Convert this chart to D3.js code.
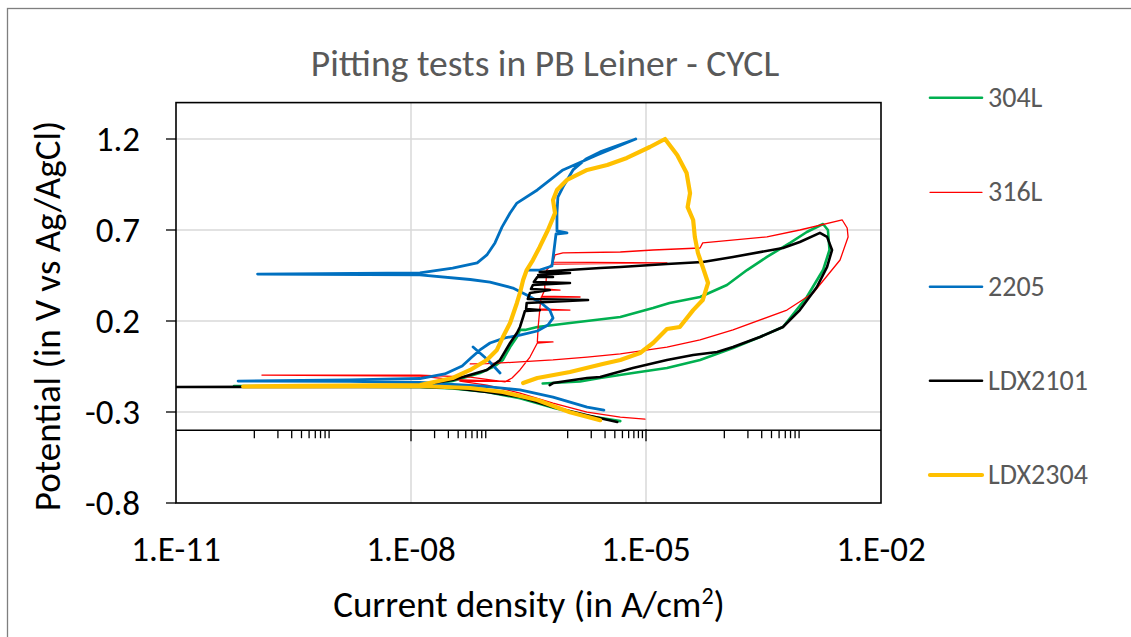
<!DOCTYPE html>
<html>
<head>
<meta charset="utf-8">
<script src="https://cdn.jsdelivr.net/npm/d3@7"></script>
<style>
  body { margin: 0; background: #ffffff; }
  svg { display: block; font-family: Carlito, Calibri, Lato, "Open Sans", sans-serif; }
</style>
</head>
<body>
<svg id="chart" width="1131" height="637"></svg>
<script>
// Cyclic polarisation scans: [current density (A/cm2), potential (V vs Ag/AgCl)]
const seriesNames = ["304L", "316L", "2205", "LDX2101", "LDX2304"];

const s304L = [
  [4.7e-6,-0.350],[1.93e-6,-0.323],[6.9e-7,-0.279],[2.46e-7,-0.224],[9.3e-8,-0.190],
  [3.4e-8,-0.171],[1.3e-8,-0.163],[3.8e-10,-0.160],[5.5e-11,-0.157],[3.8e-10,-0.157],
  [1.3e-8,-0.154],[3.4e-8,-0.130],[7.6e-8,-0.086],[1.18e-7,-0.047],[1.49e-7,-0.014],
  [1.84e-7,0.057],[2.25e-7,0.112],[2.46e-7,0.151],[2.85e-7,0.151],[4.1e-7,0.167],
  [1.07e-6,0.189],[4.7e-6,0.222],[1.23e-5,0.271],[2.0e-5,0.299],[4.9e-5,0.332],
  [1.08e-4,0.398],[1.95e-4,0.480],[3.5e-4,0.552],[6.9e-4,0.629],[1.13e-3,0.689],
  [1.82e-3,0.733],[2.1e-3,0.700],[2.2e-3,0.590],[1.82e-3,0.480],[1.13e-3,0.332],
  [5.6e-4,0.167],[2.85e-4,0.112],[1.29e-4,0.052],[4.9e-5,-0.014],[1.85e-5,-0.058],
  [6.8e-6,-0.086],[2.6e-6,-0.113],[1.44e-6,-0.132],[4.8e-7,-0.143]
];

const s316L = [
  [9.7e-6,-0.339],[4.7e-6,-0.328],[1.77e-6,-0.301],[6.5e-7,-0.251],[2.46e-7,-0.196],
  [9.3e-8,-0.152],[4.2e-8,-0.130],[1.84e-7,-0.132],[3.5e-8,-0.122],[1.3e-8,-0.103],
  [1.25e-10,-0.097],[1.3e-8,-0.097],[5.7e-8,-0.108],[1.58e-7,-0.135],[1.95e-7,-0.113],
  [2.46e-7,-0.069],[3.3e-7,0.002],[4.1e-7,0.079],[6.5e-7,0.085],[4.1e-7,0.085],
  [4.2e-7,0.167],[4.4e-7,0.260],[1.07e-6,0.260],[4.4e-7,0.266],[4.6e-7,0.332],
  [1.44e-6,0.332],[4.7e-7,0.337],[5.1e-7,0.370],[8.0e-7,0.370],[5.1e-7,0.376],
  [5.1e-7,0.409],[1.07e-6,0.409],[5.3e-7,0.414],[5.4e-7,0.480],[6.3e-7,0.513],
  [1.85e-5,0.519],[6.5e-7,0.524],[6.9e-7,0.563],[8.7e-7,0.574],[4.7e-6,0.579],
  [1.23e-5,0.590],[4.9e-5,0.601],[5.3e-5,0.629],[3.5e-4,0.662],[9.2e-4,0.700],
  [3.2e-3,0.755],[3.7e-3,0.711],[3.8e-3,0.662],[3.0e-3,0.535],[1.36e-3,0.354],
  [6.3e-4,0.260],[1.29e-4,0.151],[4.9e-5,0.096],[1.85e-5,0.057],[4.7e-6,0.019],
  [1.77e-6,0.002],[6.5e-7,-0.014],[2.46e-7,-0.025],[9.3e-8,-0.034],[5.7e-8,-0.036]
];

// null marks a break between two separately recorded segments
const s2205 = [
  [2.9e-6,-0.290],[1.77e-6,-0.273],[6.5e-7,-0.218],[2.46e-7,-0.179],[9.3e-8,-0.160],
  [3.4e-8,-0.149],[1.3e-8,-0.138],[1.66e-9,-0.132],[6.2e-11,-0.130],[1.66e-9,-0.124],
  [1.3e-8,-0.116],[2.7e-8,-0.091],[4.5e-8,-0.047],[6.0e-8,0.002],[7.6e-8,0.041],
  [1.02e-7,0.079],[1.58e-7,0.107],[2.46e-7,0.123],[4.1e-7,0.145],[5.6e-7,0.178],
  [6.5e-7,0.216],[5.9e-7,0.260],[4.6e-7,0.299],[3.0e-7,0.343],[2.0e-7,0.381],
  [1.02e-7,0.414],[5.7e-8,0.428],[1.3e-8,0.453],[1.1e-10,0.458],[1.3e-8,0.464],
  [3.4e-8,0.491],[7.0e-8,0.519],[9.3e-8,0.563],[1.18e-7,0.629],[1.45e-7,0.716],
  [1.84e-7,0.793],[2.25e-7,0.848],[4.1e-7,0.920],[8.7e-7,1.030],[2.37e-6,1.112],
  [7.4e-6,1.200],[2.6e-6,1.129],[1.71e-6,1.090],[1.17e-6,1.030],[8.7e-7,0.936],
  [7.5e-7,0.881],[7.3e-7,0.793],[7.3e-7,0.695],[9.8e-7,0.684],[7.1e-7,0.678],
  [6.7e-7,0.590],[6.3e-7,0.502],[4.4e-7,0.480],[3.1e-7,0.480],
  null,
  [6.2e-8,0.057],[9.6e-8,-0.014],[1.37e-7,-0.086]
];

const sLDX2101 = [
  [4.3e-6,-0.355],[1.77e-6,-0.318],[6.5e-7,-0.273],[2.46e-7,-0.218],[9.3e-8,-0.190],
  [3.4e-8,-0.168],[1.3e-8,-0.163],[3.8e-10,-0.163],[1.0e-11,-0.163],[3.8e-10,-0.160],
  [1.3e-8,-0.152],[3.4e-8,-0.124],[9.3e-8,-0.069],[1.37e-7,-0.014],[1.84e-7,0.079],
  [2.25e-7,0.134],[2.46e-7,0.167],[2.7e-7,0.222],[2.85e-7,0.255],[4.4e-7,0.260],
  [2.95e-7,0.266],[3.0e-7,0.299],[1.82e-6,0.315],[3.1e-7,0.321],[3.3e-7,0.354],
  [5.9e-7,0.370],[3.4e-7,0.376],[3.6e-7,0.398],[1.07e-6,0.409],[3.7e-7,0.414],
  [4.1e-7,0.442],[6.5e-7,0.442],[4.2e-7,0.453],[1.07e-6,0.464],[4.4e-7,0.469],
  [6.5e-7,0.475],[2.6e-6,0.491],[4.7e-6,0.497],[1.85e-5,0.513],[5.3e-5,0.524],
  [1.29e-4,0.552],[5.6e-4,0.601],[9.2e-4,0.634],[1.66e-3,0.684],[2.05e-3,0.662],
  [2.37e-3,0.590],[2.05e-3,0.497],[1.52e-3,0.387],[9.2e-4,0.260],[5.6e-4,0.167],
  [2.85e-4,0.112],[1.29e-4,0.057],[8.1e-5,0.030],[4.0e-5,0.013],[1.85e-5,-0.014],
  [6.8e-6,-0.058],[2.6e-6,-0.108],[1.77e-6,-0.113],[6.5e-7,-0.141],[5.9e-7,-0.152]
];

const sLDX2304 = [
  [2.6e-6,-0.345],[1.07e-6,-0.301],[4.1e-7,-0.234],[1.49e-7,-0.190],[5.7e-8,-0.168],
  [1.3e-8,-0.157],[3.8e-10,-0.160],[7.2e-11,-0.160],[3.8e-10,-0.157],[1.3e-8,-0.152],
  [3.4e-8,-0.113],[5.7e-8,-0.069],[9.3e-8,-0.014],[1.25e-7,0.041],[1.49e-7,0.112],
  [1.84e-7,0.189],[2.25e-7,0.299],[2.46e-7,0.354],[2.7e-7,0.425],[3.0e-7,0.480],
  [3.6e-7,0.535],[4.4e-7,0.607],[5.6e-7,0.700],[6.9e-7,0.793],[6.5e-7,0.865],
  [7.3e-7,0.920],[9.8e-7,0.975],[1.77e-6,1.030],[3.2e-6,1.057],[5.7e-6,1.096],
  [1.12e-5,1.156],[1.75e-5,1.200],[2.5e-5,1.112],[3.3e-5,1.013],[3.65e-5,0.903],
  [3.4e-5,0.826],[4.0e-5,0.755],[4.2e-5,0.662],[4.6e-5,0.574],[5.3e-5,0.497],
  [6.2e-5,0.409],[5.3e-5,0.315],[4.0e-5,0.260],[2.7e-5,0.167],[1.85e-5,0.156],
  [1.23e-5,0.079],[8.4e-6,0.024],[4.7e-6,-0.014],[2.8e-6,-0.036],[1.07e-6,-0.080],
  [4.1e-7,-0.113],[2.7e-7,-0.141]
];

const seriesData = [s304L, s316L, s2205, sLDX2101, sLDX2304];

// Axis ticks and labels
const yTicks = [-0.8, -0.3, 0.2, 0.7, 1.2];
const yTickLabels = ["-0.8", "-0.3", "0.2", "0.7", "1.2"];
const xTicks = [1e-11, 1e-8, 1e-5, 1e-2];
const xTickLabels = ["1.E-11", "1.E-08", "1.E-05", "1.E-02"];
const xMinorTicks = [
  1e-10, 2e-10, 3e-10, 4e-10, 5e-10, 6e-10, 7e-10, 8e-10, 9e-10,
  2e-8, 3e-8, 4e-8, 5e-8, 6e-8, 7e-8, 8e-8, 9e-8,
  1e-6, 2e-6, 3e-6, 4e-6, 5e-6, 6e-6, 7e-6, 8e-6, 9e-6,
  1e-4, 2e-4, 3e-4, 4e-4, 5e-4, 6e-4, 7e-4, 8e-4, 9e-4
];
const xAxisCrossing = -0.4;

// Styling
const seriesColors = ["#00B050", "#FF0000", "#0070C0", "#000000", "#FFC000"];
const seriesWidths = [2.6, 1.3, 2.8, 2.6, 4.2];
const legendWidths = [2.6, 1.3, 2.6, 2.6, 4.2];

const W = 1131, H = 637;
const plot = { left: 176, right: 881, top: 102.6, bottom: 503 };

const svg = d3.select("#chart");

const x = d3.scaleLog().domain([1e-11, 1e-2]).range([plot.left, plot.right]);
const y = d3.scaleLinear().domain([-0.8, 1.4]).range([plot.bottom, plot.top]);

// chart frame
svg.append("rect")
  .attr("x", 7.5).attr("y", 8.5)
  .attr("width", W).attr("height", H)
  .attr("fill", "#ffffff")
  .attr("stroke", "#7f7f7f").attr("stroke-width", 1.3);

// gridlines
const grid = svg.append("g").attr("stroke", "#d9d9d9").attr("stroke-width", 1.5);
grid.selectAll("line.h").data(yTicks.filter(v => v > -0.8)).join("line")
  .attr("x1", plot.left).attr("x2", plot.right)
  .attr("y1", d => y(d)).attr("y2", d => y(d));
grid.selectAll("line.v").data(xTicks.slice(1, -1)).join("line")
  .attr("x1", d => x(d)).attr("x2", d => x(d))
  .attr("y1", plot.top).attr("y2", plot.bottom);

// data series
svg.append("clipPath").attr("id", "plotClip")
  .append("rect")
  .attr("x", plot.left).attr("y", plot.top)
  .attr("width", plot.right - plot.left).attr("height", plot.bottom - plot.top);

const line = d3.line()
  .defined(d => d !== null)
  .x(d => x(d[0]))
  .y(d => y(d[1]));

svg.append("g").attr("clip-path", "url(#plotClip)")
  .selectAll("path").data(seriesData).join("path")
  .attr("d", line)
  .attr("fill", "none")
  .attr("stroke", (d, i) => seriesColors[i])
  .attr("stroke-width", (d, i) => seriesWidths[i])
  .attr("stroke-linejoin", "round")
  .attr("stroke-linecap", "round");

// plot area outline
svg.append("rect")
  .attr("x", plot.left).attr("y", plot.top)
  .attr("width", plot.right - plot.left).attr("height", plot.bottom - plot.top)
  .attr("fill", "none").attr("stroke", "#000000").attr("stroke-width", 1.6);

// x axis crossing at -0.4 V
const axisY = y(xAxisCrossing);
svg.append("line")
  .attr("x1", plot.left).attr("x2", plot.right)
  .attr("y1", axisY).attr("y2", axisY)
  .attr("stroke", "#000000").attr("stroke-width", 1.6);

const ticks = svg.append("g").attr("stroke", "#000000").attr("stroke-width", 1.3);
ticks.selectAll("line.major").data(xTicks.slice(1, -1)).join("line")
  .attr("x1", d => x(d)).attr("x2", d => x(d))
  .attr("y1", axisY - 1).attr("y2", axisY + 11);
ticks.selectAll("line.minor").data(xMinorTicks).join("line")
  .attr("x1", d => x(d)).attr("x2", d => x(d))
  .attr("y1", axisY).attr("y2", axisY + 8);
ticks.selectAll("line.ytick").data(yTicks).join("line")
  .attr("x1", plot.left - 10).attr("x2", plot.left)
  .attr("y1", d => y(d)).attr("y2", d => y(d));

// tick labels
svg.append("g").selectAll("text").data(yTicks).join("text")
  .attr("x", 140).attr("y", d => y(d))
  .attr("dy", "0.34em")
  .attr("text-anchor", "end")
  .attr("font-size", 35).attr("fill", "#000000")
  .text((d, i) => yTickLabels[i]);

svg.append("g").selectAll("text").data(xTicks).join("text")
  .attr("x", d => x(d)).attr("y", 561)
  .attr("text-anchor", "middle")
  .attr("font-size", 35).attr("fill", "#000000")
  .text((d, i) => xTickLabels[i]);

// axis titles
svg.append("text")
  .attr("transform", "translate(60,316) rotate(-90)")
  .attr("text-anchor", "middle")
  .attr("font-size", 37).attr("fill", "#000000")
  .text("Potential (in V vs Ag/AgCl)");

const xTitle = svg.append("text")
  .attr("x", 529).attr("y", 617)
  .attr("text-anchor", "middle")
  .attr("font-size", 37).attr("fill", "#000000");
xTitle.append("tspan").text("Current density (in A/cm");
xTitle.append("tspan").attr("font-size", 24).attr("dy", -13).text("2");
xTitle.append("tspan").attr("dy", 13).text(")");

// chart title
svg.append("text")
  .attr("x", 545).attr("y", 76)
  .attr("text-anchor", "middle")
  .attr("font-size", 37.6).attr("fill", "#595959")
  .text("Pitting tests in PB Leiner - CYCL");

// legend
const legendY = [97.7, 192.3, 286.7, 380.7, 475];
const legend = svg.append("g").selectAll("g").data(seriesNames).join("g")
  .attr("transform", (d, i) => `translate(0,${legendY[i]})`);
legend.append("line")
  .attr("x1", 930).attr("x2", 982).attr("y1", 0).attr("y2", 0)
  .attr("stroke", (d, i) => seriesColors[i])
  .attr("stroke-width", (d, i) => legendWidths[i])
  .attr("stroke-linecap", "round");
legend.append("text")
  .attr("x", 988).attr("y", 9)
  .attr("font-size", 28).attr("fill", "#595959")
  .text(d => d);
</script>
</body>
</html>
